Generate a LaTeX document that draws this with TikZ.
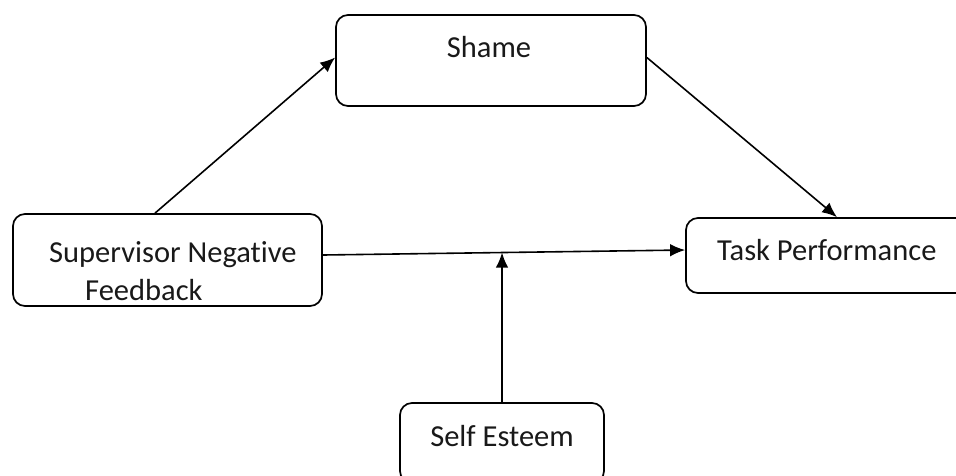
\documentclass[tikz,border=0pt]{standalone}
\usepackage{fontspec}
\setmainfont[Ligatures=NoCommon]{Carlito}
\usepackage{tikz}
\usetikzlibrary{arrows.meta}

\tikzset{
  box/.style={draw, line width=1.7pt, rounded corners=12pt, inner sep=0pt},
  lbl/.style={inner sep=0pt, text=black!90, font=\fontsize{30.5}{36}\selectfont},
  arr/.style={line width=1.6pt, -{Latex[length=15pt,width=12.5pt]}}
}

\begin{document}
\begin{tikzpicture}[x=1pt,y=1pt,yscale=-1,xscale=1]
\useasboundingbox (0,0) rectangle (956,475);

%Shape: Rounded Rect [id:shame]
\node[box, minimum width=310pt, minimum height=91pt] (shame) at (491,60.5) {};
%Shape: Rounded Rect [id:snf]
\node[box, minimum width=309pt, minimum height=92pt] (snf) at (167.5,260) {};
%Shape: Rounded Rect [id:task]
\node[box, minimum width=294pt, minimum height=75pt] (task) at (833,255.5) {};
%Shape: Rounded Rect [id:self]
\node[box, minimum width=204pt, minimum height=80pt] (self) at (502,443) {};

%Straight Lines
\draw[arr] ([xshift=-12.5pt]snf.north) -- ([yshift=-3pt]shame.west);
\draw[arr] ([yshift=-3pt]shame.east) -- ([xshift=4pt]task.north);
\draw[arr] ([yshift=-5pt]snf.east) -- coordinate[pos=0.4945] (mid) ([yshift=-5.5pt]task.west);
\draw[arr] (self.north) -- (mid);

% Text Node
\node[lbl, anchor=base] (shametxt) at (489,57) {Shame};
% Text Node
\node[lbl, anchor=base west] (snftxt1) at (49,262) {Supervisor Negative};
% Text Node
\node[lbl, anchor=base west] (snftxt2) at (85,300) {Feedback};
% Text Node
\node[lbl, anchor=base west] (tasktxt) at (717,260) {Task Performance};
% Text Node
\node[lbl, anchor=base] (selftxt) at (502,446) {Self Esteem};
\end{tikzpicture}
\end{document}
